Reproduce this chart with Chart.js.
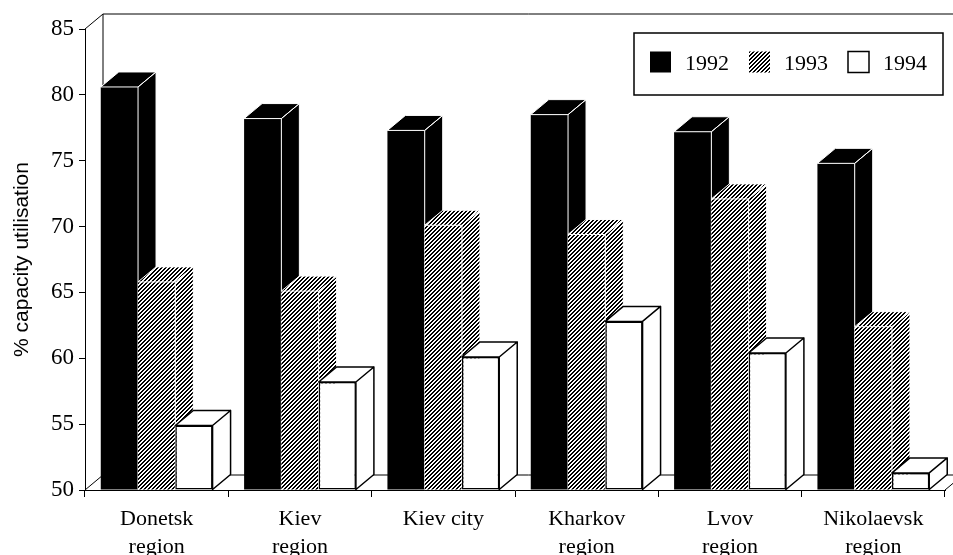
<!DOCTYPE html>
<html>
<head>
<meta charset="utf-8">
<script src="https://cdn.jsdelivr.net/npm/chart.js"></script>
<style>
  body { margin: 0; background: #fff; }
</style>
</head>
<body>
<canvas id="capacitychart" width="953" height="555"></canvas>
<script>
// data
const regions = [["Donetsk", "region"], ["Kiev", "region"], "Kiev city", ["Kharkov", "region"], ["Lvov", "region"], ["Nikolaevsk", "region"]];
const years = ["1992", "1993", "1994"];
const util1992 = [80.6, 78.2, 77.3, 78.5, 77.2, 74.8];
const util1993 = [65.8, 65.1, 70.1, 69.4, 72.1, 62.4];
const util1994 = [54.9, 58.2, 60.1, 62.8, 60.4, 51.3];
const yTicks = [50, 55, 60, 65, 70, 75, 80, 85];

// depth of the fake 3d look
const depthX = 18;
const depthY = -15;

const canvas = document.getElementById("capacitychart");
const ctx = canvas.getContext("2d");

// diagonal hatch like the print
function makeHatch() {
  const tile = document.createElement("canvas");
  tile.width = 4;
  tile.height = 4;
  const tctx = tile.getContext("2d");
  const img = tctx.createImageData(4, 4);
  for (let y = 0; y < 4; y++) {
    for (let x = 0; x < 4; x++) {
      const i = (y * 4 + x) * 4;
      const v = (x + y) % 4 < 2 ? 0 : 255;
      img.data[i] = v;
      img.data[i + 1] = v;
      img.data[i + 2] = v;
      img.data[i + 3] = 255;
    }
  }
  tctx.putImageData(img, 0, 0);
  return ctx.createPattern(tile, "repeat");
}
const hatch = makeHatch();

function drawDepth(c, bar, ds) {
  const p = bar.getProps(["x", "y", "base", "width"], true);
  const l = p.x - p.width / 2;
  const r = p.x + p.width / 2;
  const t = Math.min(p.y, p.base);
  const b = Math.max(p.y, p.base);
  c.beginPath();
  c.moveTo(r, b);
  c.lineTo(r, t);
  c.lineTo(r + depthX, t + depthY);
  c.lineTo(r + depthX, b + depthY);
  c.closePath();
  c.moveTo(l, t);
  c.lineTo(l + depthX, t + depthY);
  c.lineTo(r + depthX, t + depthY);
  c.lineTo(r, t);
  c.closePath();
  c.fillStyle = ds.depthFill;
  c.fill();
  c.strokeStyle = ds.depthEdge;
  c.lineWidth = ds.edgeWidth;
  c.lineJoin = "round";
  c.stroke();
}

// walls, floor and the bars drawn left to right so later bars cover earlier sides
const depth3d = {
  id: "depth3d",
  beforeDatasetsDraw(chart) {
    const c = chart.ctx;
    const a = chart.chartArea;
    c.save();
    c.strokeStyle = "#000";
    c.lineWidth = 1;
    c.beginPath();
    c.moveTo(a.left, a.top);
    c.lineTo(a.left + depthX, a.top + depthY);
    c.lineTo(a.right + depthX, a.top + depthY);
    c.moveTo(a.left + depthX, a.top + depthY);
    c.lineTo(a.left + depthX, a.bottom + depthY);
    c.lineTo(a.right + depthX, a.bottom + depthY);
    c.moveTo(a.left, a.bottom);
    c.lineTo(a.left + depthX, a.bottom + depthY);
    c.moveTo(a.right, a.bottom);
    c.lineTo(a.right + depthX, a.bottom + depthY);
    c.stroke();
    c.restore();
  },
  beforeDatasetDraw() {
    return false;
  },
  afterDatasetsDraw(chart) {
    const c = chart.ctx;
    chart.data.datasets.forEach((ds, i) => {
      const meta = chart.getDatasetMeta(i);
      meta.data.forEach((bar) => {
        c.save();
        bar.draw(c);
        c.restore();
        c.save();
        drawDepth(c, bar, ds);
        c.restore();
      });
    });
  },
  // boxed legend in the top right corner
  afterDraw(chart) {
    const c = chart.ctx;
    const a = chart.chartArea;
    const sq = 21, gapText = 14, gapItem = 20, pad = 16, h = 62;
    c.save();
    c.font = "22px 'Liberation Serif'";
    let w = pad * 2;
    chart.data.datasets.forEach((ds, i) => {
      w += sq + gapText + c.measureText(ds.label).width + (i ? gapItem : 0);
    });
    const right = a.right - 2;
    const top = a.top + 4;
    const left = right - w;
    c.fillStyle = "#fff";
    c.fillRect(left, top, w, h);
    c.strokeStyle = "#000";
    c.lineWidth = 1.5;
    c.strokeRect(left, top, w, h);
    let x = left + pad;
    const cy = top + h / 2;
    chart.data.datasets.forEach((ds) => {
      c.fillStyle = ds.backgroundColor;
      c.fillRect(x, cy - sq / 2 - 2, sq, sq);
      if (ds.borderWidth) {
        c.lineWidth = 1.5;
        c.strokeStyle = "#000";
        c.strokeRect(x, cy - sq / 2 - 2, sq, sq);
      }
      x += sq + gapText;
      c.fillStyle = "#000";
      c.textBaseline = "middle";
      c.fillText(ds.label, x, cy);
      x += c.measureText(ds.label).width + gapItem;
    });
    c.restore();
  },
};

var capacityChart = new Chart(ctx, {
  type: "bar",
  data: {
    labels: regions,
    datasets: [
      {
        label: years[0],
        data: util1992,
        base: yTicks[0],
        backgroundColor: "#000",
        borderWidth: 0,
        depthFill: "#000",
        depthEdge: "#fff",
        edgeWidth: 1,
      },
      {
        label: years[1],
        data: util1993,
        base: yTicks[0],
        backgroundColor: hatch,
        borderWidth: 0,
        depthFill: hatch,
        depthEdge: "#fff",
        edgeWidth: 1,
      },
      {
        label: years[2],
        data: util1994,
        base: yTicks[0],
        backgroundColor: "#fff",
        borderColor: "#000",
        borderWidth: 1.5,
        borderSkipped: false,
        depthFill: "#fff",
        depthEdge: "#000",
        edgeWidth: 1.5,
      },
    ],
  },
  options: {
    responsive: false,
    devicePixelRatio: 1,
    animation: false,
    layout: { padding: { top: 29, right: 8, bottom: 0, left: 0 } },
    datasets: {
      bar: { barPercentage: 1, categoryPercentage: 0.78 },
    },
    plugins: {
      legend: { display: false },
      tooltip: { enabled: false },
    },
    scales: {
      x: {
        afterFit: (scale) => { scale.height = 65; },
        grid: { drawOnChartArea: false, tickLength: 7, color: "#000", offset: true },
        border: { color: "#000", width: 1 },
        ticks: {
          color: "#000",
          padding: 9,
          maxRotation: 0,
          autoSkip: false,
          font: { family: "'Liberation Serif'", size: 22, lineHeight: 1.24 },
        },
      },
      y: {
        min: yTicks[0],
        max: yTicks[yTicks.length - 1],
        afterFit: (scale) => { scale.width = 85; },
        grid: { drawOnChartArea: false, tickLength: 6, color: "#000" },
        border: { color: "#000", width: 1 },
        ticks: {
          stepSize: yTicks[1] - yTicks[0],
          color: "#000",
          padding: 5,
          font: { family: "'Liberation Serif'", size: 23 },
        },
        title: {
          display: true,
          text: "% capacity utilisation",
          color: "#000",
          padding: { top: 10, bottom: 0 },
          font: { family: "'Liberation Sans'", size: 21 },
        },
      },
    },
  },
  plugins: [depth3d],
});
</script>
</body>
</html>
